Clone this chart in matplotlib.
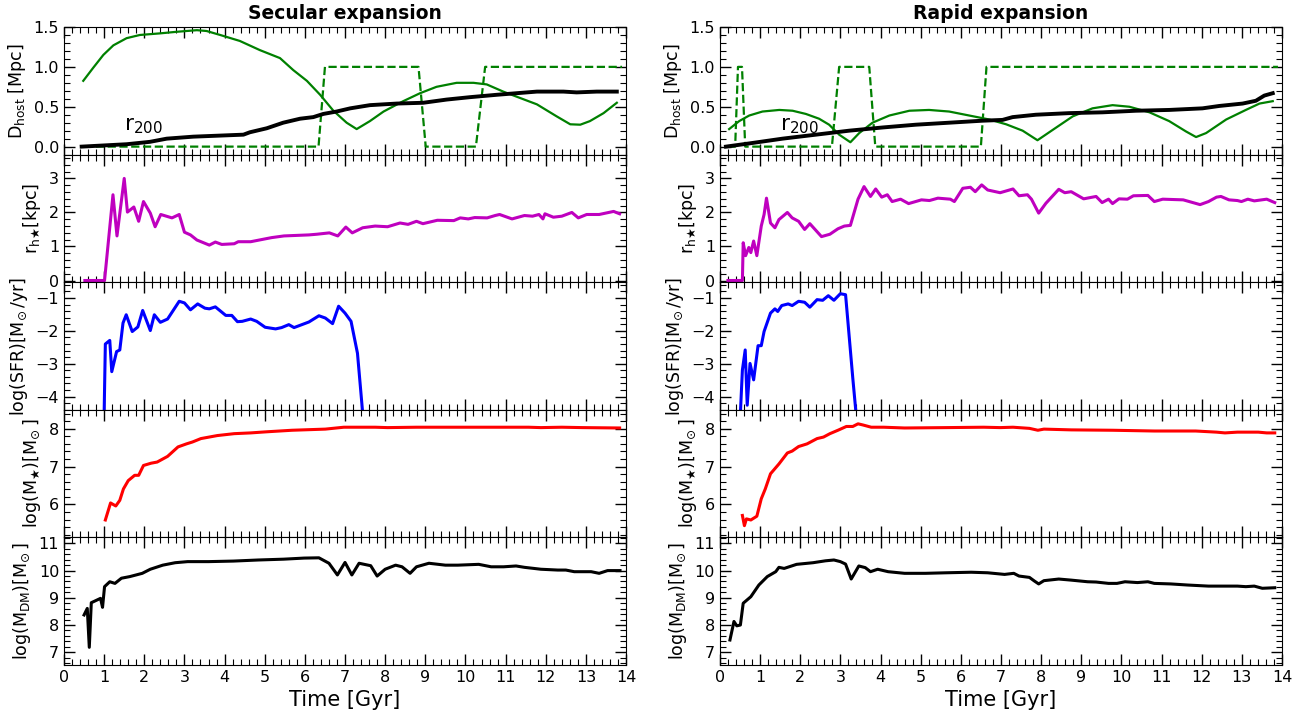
import numpy as np
import matplotlib
matplotlib.use("Agg")
import matplotlib.pyplot as plt
from matplotlib.ticker import AutoMinorLocator, MultipleLocator, FormatStrFormatter

# ---------------- Secular expansion (left column) ----------------
sec_dist_t = [0.48, 0.73, 0.98, 1.23, 1.56, 1.89, 2.39, 2.81, 3.31, 3.55, 3.89, 4.38, 4.88, 5.38,
              5.71, 6.05, 6.38, 6.71, 7.04, 7.29, 7.62, 7.96, 8.45, 8.87, 9.28, 9.78, 10.2,
              10.53, 10.94, 11.36, 11.78, 12.27, 12.61, 12.86, 13.1, 13.44, 13.77]
sec_dist = [0.825, 0.99, 1.15, 1.27, 1.36, 1.40, 1.42, 1.44, 1.46, 1.45, 1.40, 1.325, 1.21, 1.11,
            0.96, 0.825, 0.65, 0.45, 0.30, 0.22, 0.32, 0.44, 0.57, 0.67, 0.75, 0.80, 0.80,
            0.78, 0.69, 0.61, 0.53, 0.38, 0.28, 0.275, 0.32, 0.42, 0.55]
sec_flag_t = [0.5, 6.34, 6.5, 8.83, 9.01, 10.26, 10.49, 13.9]
sec_flag = [0, 0, 1, 1, 0, 0, 1, 1]
sec_r200_t = [0.44, 1.56, 2.14, 2.56, 3.22, 4.47, 4.63, 5.05, 5.46, 5.88, 6.21, 6.46, 6.79, 7.13,
              7.62, 8.29, 8.95, 9.53, 10.11, 10.78, 11.28, 11.78, 12.44, 12.77, 13.27, 13.77]
sec_r200 = [0.0, 0.03, 0.06, 0.10, 0.125, 0.15, 0.18, 0.23, 0.30, 0.35, 0.37, 0.41, 0.44, 0.48,
            0.52, 0.54, 0.55, 0.59, 0.62, 0.65, 0.67, 0.69, 0.69, 0.68, 0.69, 0.69]

sec_rh_t = [0.52, 1.01, 1.22, 1.32, 1.5, 1.58, 1.74, 1.86, 1.98, 2.15, 2.27, 2.41, 2.69, 2.87, 3.0,
            3.15, 3.31, 3.62, 3.77, 3.93, 4.24, 4.34, 4.65, 5.17, 5.48, 6.1, 6.3, 6.61, 6.82, 7.02,
            7.18, 7.44, 7.75, 8.06, 8.37, 8.57, 8.78, 8.94, 9.3, 9.71, 9.87, 10.07, 10.23, 10.54,
            10.74, 10.85, 11.16, 11.47, 11.67, 11.83, 11.93, 11.98, 12.19, 12.4, 12.65, 12.81,
            13.02, 13.33, 13.69, 13.84]
sec_rh = [0, 0, 2.52, 1.31, 3.0, 2.01, 2.16, 1.74, 2.32, 1.98, 1.58, 1.94, 1.84, 1.94, 1.42,
          1.34, 1.19, 1.04, 1.13, 1.06, 1.08, 1.14, 1.14, 1.26, 1.31, 1.34, 1.36, 1.40, 1.31, 1.57,
          1.40, 1.55, 1.60, 1.58, 1.69, 1.65, 1.74, 1.67, 1.77, 1.76, 1.84, 1.81, 1.85, 1.84,
          1.91, 1.94, 1.81, 1.91, 1.89, 1.94, 1.81, 1.96, 1.86, 1.89, 2.0, 1.84,
          1.94, 1.94, 2.03, 1.96]

sec_sfr_t = [1.0, 1.03, 1.14, 1.19, 1.31, 1.39, 1.47, 1.55, 1.7, 1.84, 1.96, 2.15, 2.25, 2.4, 2.58,
             2.87, 3.0, 3.15, 3.33, 3.51, 3.62, 3.77, 4.03, 4.18, 4.32, 4.44, 4.65, 4.8, 5.01, 5.27,
             5.42, 5.6, 5.73, 6.1, 6.35, 6.51, 6.69, 6.84, 7.0, 7.15, 7.31, 7.44]
sec_sfr = [-4.5, -2.40, -2.29, -3.24, -2.63, -2.58, -1.76, -1.51, -2.02, -1.88, -1.38, -1.99, -1.51,
           -1.74, -1.64, -1.1, -1.15, -1.36, -1.18, -1.31, -1.33, -1.27, -1.53, -1.53, -1.72, -1.71,
           -1.64, -1.71, -1.89, -1.94, -1.9, -1.81, -1.9, -1.73, -1.54, -1.61, -1.78, -1.25, -1.46,
           -1.71, -2.68, -4.5]

sec_ms_t = [1.03, 1.16, 1.29, 1.39, 1.48, 1.6, 1.76, 1.86, 1.98, 2.17, 2.32, 2.58, 2.84, 3.05, 3.2,
            3.41, 3.82, 4.24, 4.65, 5.06, 5.68, 6.51, 6.97, 7.75, 8.06, 8.78, 9.81, 10.85, 11.57,
            11.88, 12.4, 12.91, 13.84]
sec_ms = [5.59, 6.04, 5.96, 6.11, 6.41, 6.63, 6.77, 6.77, 7.03, 7.09, 7.12, 7.27, 7.52, 7.6, 7.65,
          7.74, 7.82, 7.87, 7.89, 7.92, 7.96, 7.99, 8.04, 8.04, 8.03, 8.04, 8.04, 8.04, 8.04,
          8.03, 8.04, 8.03, 8.02]

sec_mdm_t = [0.5, 0.58, 0.63, 0.68, 0.91, 0.96, 1.01, 1.14, 1.27, 1.43, 1.64, 1.95, 2.15, 2.46, 2.77,
             3.08, 3.6, 4.22, 4.84, 5.47, 5.98, 6.35, 6.6, 6.81, 7.0, 7.17, 7.35, 7.64, 7.8, 8.0,
             8.26, 8.42, 8.62, 8.78, 9.09, 9.5, 9.81, 10.33, 10.64, 10.95, 11.26, 11.47, 11.88,
             12.3, 12.5, 12.71, 13.13, 13.33, 13.54, 13.85]
sec_mdm = [8.37, 8.61, 7.18, 8.82, 8.98, 8.65, 9.41, 9.59, 9.53, 9.72, 9.78, 9.9, 10.05, 10.2, 10.29,
           10.33, 10.33, 10.35, 10.39, 10.42, 10.46, 10.47, 10.27, 9.84, 10.3, 9.84, 10.27, 10.18,
           9.8, 10.05, 10.2, 10.14, 9.9, 10.14, 10.27, 10.2, 10.2, 10.23, 10.14, 10.14, 10.17,
           10.12, 10.05, 10.02, 10.02, 9.96, 9.96, 9.9, 10.0, 10.0]

# ---------------- Rapid expansion (right column) ----------------
rap_dist_t = [0.23, 0.48, 0.73, 1.06, 1.48, 1.81, 2.14, 2.47, 2.72, 2.97, 3.25, 3.47, 3.8, 4.22,
              4.72, 5.21, 5.71, 6.21, 6.71, 7.13, 7.54, 7.91, 8.29, 8.79, 9.28, 9.78, 10.2, 10.7,
              11.19, 11.61, 11.86, 12.11, 12.61, 13.1, 13.44, 13.77]
rap_dist = [0.22, 0.32, 0.39, 0.44, 0.46, 0.45, 0.41, 0.35, 0.275, 0.15, 0.055, 0.17, 0.30, 0.39,
            0.45, 0.46, 0.44, 0.39, 0.34, 0.28, 0.20, 0.08, 0.21, 0.38, 0.48, 0.52, 0.50, 0.43,
            0.32, 0.19, 0.12, 0.17, 0.34, 0.46, 0.54, 0.57]
rap_flag_t = [0.23, 0.38, 0.45, 0.55, 0.63, 2.79, 2.97, 3.72, 3.87, 6.5, 6.64, 13.9]
rap_flag = [0, 0, 1, 1, 0, 0, 1, 1, 0, 0, 1, 1]
rap_r200_t = [0.15, 0.73, 1.56, 2.39, 3.22, 4.05, 4.88, 5.71, 6.54, 7.04, 7.29, 7.87, 8.7, 9.53,
              10.36, 11.19, 12.02, 12.44, 13.02, 13.35, 13.56, 13.77]
rap_r200 = [0.0, 0.04, 0.10, 0.15, 0.20, 0.24, 0.275, 0.30, 0.325, 0.335, 0.37, 0.40, 0.42, 0.43,
            0.45, 0.46, 0.48, 0.51, 0.54, 0.575, 0.64, 0.67]

rap_rh_t = [0.2, 0.56, 0.58, 0.64, 0.72, 0.77, 0.84, 0.92, 1.03, 1.1, 1.16, 1.26, 1.37, 1.47, 1.68,
            1.8, 1.96, 2.11, 2.24, 2.37, 2.53, 2.74, 2.94, 3.1, 3.25, 3.44, 3.59, 3.75, 3.88, 4.03,
            4.17, 4.29, 4.5, 4.7, 5.02, 5.22, 5.43, 5.74, 5.84, 6.05, 6.24, 6.36, 6.52, 6.67, 6.98,
            7.3, 7.45, 7.66, 7.76, 7.94, 8.12, 8.44, 8.59, 8.75, 9.06, 9.37, 9.52, 9.68, 9.78, 9.94,
            10.15, 10.3, 10.66, 10.82, 11.03, 11.54, 11.96, 12.17, 12.37, 12.48, 12.68, 12.89,
            12.99, 13.15, 13.31, 13.62, 13.82]
rap_rh = [0, 0, 1.11, 0.73, 0.97, 0.82, 1.16, 0.73, 1.6, 1.94, 2.42, 1.69, 1.55, 1.79, 2.0,
          1.84, 1.74, 1.5, 1.67, 1.5, 1.29, 1.36, 1.52, 1.6, 1.62, 2.39, 2.76, 2.47, 2.69, 2.45,
          2.52, 2.32, 2.39, 2.26, 2.37, 2.35, 2.42, 2.39, 2.32, 2.71, 2.74, 2.61, 2.81, 2.66, 2.58,
          2.69, 2.49, 2.52, 2.39, 1.98, 2.27, 2.68, 2.58, 2.61, 2.4, 2.47, 2.29, 2.39, 2.26, 2.4,
          2.39, 2.49, 2.5, 2.32, 2.39, 2.37, 2.23, 2.32, 2.45, 2.47, 2.37, 2.35,
          2.32, 2.39, 2.34, 2.39, 2.29]

rap_sfr_t = [0.51, 0.56, 0.63, 0.68, 0.75, 0.84, 0.95, 1.03, 1.1, 1.26, 1.37, 1.44, 1.54, 1.7, 1.8,
             1.96, 2.11, 2.24, 2.42, 2.56, 2.7, 2.84, 3.0, 3.13, 3.31, 3.39]
rap_sfr = [-4.5, -3.19, -2.58, -4.26, -2.99, -3.49, -2.45, -2.45, -2.02, -1.46, -1.33, -1.41, -1.23,
           -1.18, -1.23, -1.1, -1.13, -1.28, -1.05, -1.07, -0.93, -1.07, -0.87, -0.9, -3.44, -4.5]

rap_ms_t = [0.56, 0.61, 0.66, 0.77, 0.92, 1.03, 1.13, 1.26, 1.47, 1.68, 1.8, 1.96, 2.17, 2.42, 2.58,
            2.74, 2.94, 3.15, 3.31, 3.44, 3.56, 3.77, 4.08, 4.6, 5.64, 6.57, 6.98, 7.3, 7.71, 7.92,
            8.07, 8.75, 9.78, 10.82, 11.85, 12.37, 12.58, 12.89, 13.41, 13.62, 13.82]
rap_ms = [5.71, 5.44, 5.62, 5.59, 5.69, 6.15, 6.41, 6.81, 7.07, 7.36, 7.41, 7.53, 7.6, 7.74, 7.78,
          7.87, 7.96, 8.06, 8.06, 8.13, 8.1, 8.04, 8.04, 8.02, 8.03, 8.04, 8.03, 8.04, 8.01, 7.96,
          7.99, 7.97, 7.96, 7.94, 7.94, 7.91, 7.89, 7.91, 7.91, 7.89, 7.89]

rap_mdm_t = [0.25, 0.35, 0.42, 0.51, 0.58, 0.77, 0.97, 1.18, 1.39, 1.47, 1.6, 1.91, 2.32, 2.63, 2.84,
             3.0, 3.13, 3.27, 3.46, 3.62, 3.75, 3.93, 4.19, 4.6, 5.12, 5.64, 6.26, 6.67, 7.09, 7.32,
             7.45, 7.71, 7.83, 7.94, 8.07, 8.44, 8.75, 9.16, 9.37, 9.68, 9.89, 10.09, 10.4, 10.66,
             10.82, 11.23, 11.65, 12.17, 12.58, 12.89, 13.1, 13.31, 13.51, 13.82]
rap_mdm = [7.45, 8.13, 7.97, 8.0, 8.8, 9.04, 9.47, 9.78, 9.96, 10.12, 10.08, 10.23, 10.29, 10.36,
           10.39, 10.33, 10.24, 9.69, 10.17, 10.11, 9.96, 10.05, 9.96, 9.9, 9.9, 9.92, 9.94, 9.92,
           9.86, 9.9, 9.8, 9.75, 9.62, 9.51, 9.63, 9.69, 9.65, 9.59, 9.58, 9.53, 9.53, 9.59, 9.56,
           9.59, 9.53, 9.51, 9.47, 9.43, 9.43, 9.43, 9.41, 9.43, 9.35, 9.37]

titles = ["Secular expansion", "Rapid expansion"]
ylabels = [r"D$_{\rm host}$ [Mpc]", r"r$_{\rm h\bigstar}$[kpc]",
           r"log(SFR)[$\mathrm{M}_{\!\odot}$/yr]",
           r"log($\mathrm{M}_\bigstar$)[$\mathrm{M}_{\!\odot}$]",
           r"log($\mathrm{M}_{\rm DM}$)[$\mathrm{M}_{\!\odot}$]"]
ylims = [(-0.1, 1.5), (-0.05, 3.7), (-4.4, -0.52), (5.13, 8.5), (6.53, 11.22)]
ymajor = [0.5, 1, 1, 1, 1]

columns = [
    dict(dist=(sec_dist_t, sec_dist), flag=(sec_flag_t, sec_flag), r200=(sec_r200_t, sec_r200),
         rh=(sec_rh_t, sec_rh), sfr=(sec_sfr_t, sec_sfr), ms=(sec_ms_t, sec_ms),
         mdm=(sec_mdm_t, sec_mdm)),
    dict(dist=(rap_dist_t, rap_dist), flag=(rap_flag_t, rap_flag), r200=(rap_r200_t, rap_r200),
         rh=(rap_rh_t, rap_rh), sfr=(rap_sfr_t, rap_sfr), ms=(rap_ms_t, rap_ms),
         mdm=(rap_mdm_t, rap_mdm)),
]

fig, axes = plt.subplots(5, 2, figsize=(13.06, 7.18), dpi=100, sharex='col')
fig.subplots_adjust(left=0.049, right=0.9816, top=0.9624, bottom=0.0738, hspace=0, wspace=0.167)

for c, d in enumerate(columns):
    col = axes[:, c]
    col[0].plot(*d["dist"], color='g', lw=1.6)
    col[0].plot(*d["flag"], color='g', lw=1.6, ls='--')
    col[0].plot(*d["r200"], color='k', lw=2.8)
    col[0].text(1.5, 0.2, r"r$_{200}$", fontsize=15.5)
    col[0].set_title(titles[c], fontsize=13.5, fontweight='bold')
    col[1].plot(*d["rh"], color='m', lw=2.2)
    col[2].plot(*d["sfr"], color='b', lw=2.2)
    col[3].plot(*d["ms"], color='r', lw=2.2)
    col[4].plot(*d["mdm"], color='k', lw=2.2)

    for r, ax in enumerate(col):
        ax.set_xlim(0, 14)
        ax.set_ylim(*ylims[r])
        ax.xaxis.set_major_locator(MultipleLocator(1))
        ax.xaxis.set_minor_locator(AutoMinorLocator(5))
        ax.yaxis.set_major_locator(MultipleLocator(ymajor[r]))
        ax.yaxis.set_minor_locator(AutoMinorLocator(5))
        ax.tick_params(which='both', direction='in', top=True, right=True, labelsize=11.5)
        ax.tick_params(which='major', length=8, width=1)
        ax.tick_params(which='minor', length=4, width=0.8)
        ax.set_ylabel(ylabels[r], fontsize=12.5)
    col[0].yaxis.set_major_formatter(FormatStrFormatter('%.1f'))
    col[4].set_xlabel("Time [Gyr]", fontsize=15)

fig.savefig("out.png", dpi=100)
